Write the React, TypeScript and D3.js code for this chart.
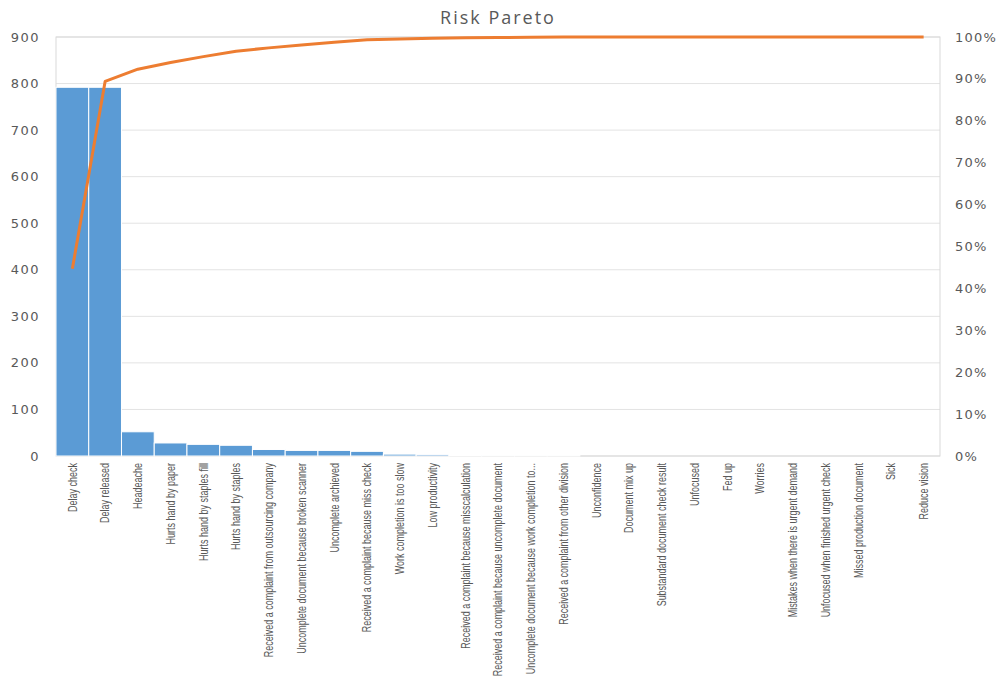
import React from 'react';
import * as d3 from 'd3';

const categories = [
  'Delay check',
  'Delay released',
  'Headeache',
  'Hurts hand by paper',
  'Hurts hand by staples fill',
  'Hurts hand by staples',
  'Received a complaint from outsourcing company',
  'Uncomplete document because broken scanner',
  'Uncomplete archieved',
  'Received a complaint because miss check',
  'Work completion is too slow',
  'Low productivity',
  'Received a complaint because misscalculation',
  'Received a complaint because uncomplete document',
  'Uncomplete document because work completion to...',
  'Received a complaint from other division',
  'Unconfidence',
  'Document mix up',
  'Substandard document check result',
  'Unfocused',
  'Fed up',
  'Worries',
  'Mistakes when there is urgent demand',
  'Unfocused when finished urgent check',
  'Missed production document',
  'Sick',
  'Reduce vision',
];

const counts = [792, 792, 52, 28, 25, 23, 14, 12, 12, 10, 4, 3, 2, 1, 1, 1, 0, 0, 0, 0, 0, 0, 0, 0, 0, 0, 0];

const leftTicks = [0, 100, 200, 300, 400, 500, 600, 700, 800, 900];
const rightTicks = [0, 0.1, 0.2, 0.3, 0.4, 0.5, 0.6, 0.7, 0.8, 0.9, 1];

const W = 1001;
const H = 681;
const margin = { top: 37, right: 61, bottom: 225, left: 56 };

export default function App() {
  const innerW = W - margin.left - margin.right;
  const innerH = H - margin.top - margin.bottom;

  const x = d3.scaleBand<string>().domain(categories).range([0, innerW]).padding(0);
  const y = d3.scaleLinear().domain([0, 900]).range([innerH, 0]);
  const yPct = d3.scaleLinear().domain([0, 1]).range([innerH, 0]);

  const total = d3.sum(counts);
  const cum = d3.cumsum(counts).map(v => v / total);

  const line = d3.line<number>()
    .x((_, i) => (x(categories[i]) as number) + x.bandwidth() / 2)
    .y(d => yPct(d));

  const tickFont = 'DejaVu Sans, sans-serif';
  const gray = '#595959';

  return (
    <svg width={W} height={H} style={{ position: 'absolute', left: 0, top: 0, background: '#fff' }}>
      <text x={498} y={24} textAnchor="middle" fontFamily="Open Sans, sans-serif" fontSize={18} fill={gray} letterSpacing={2}>
        Risk Pareto
      </text>
      <g transform={`translate(${margin.left},${margin.top})`}>
        {leftTicks.map(t => (
          <line key={t} x1={0} x2={innerW} y1={y(t)} y2={y(t)} stroke="#e3e3e3" strokeWidth={1} />
        ))}
        <rect x={0} y={0} width={innerW} height={innerH} fill="none" stroke="#d9d9d9" strokeWidth={1} />
        {counts.map((v, i) => (
          <rect
            key={categories[i]}
            x={x(categories[i])}
            y={y(v)}
            width={x.bandwidth()}
            height={innerH - y(v)}
            fill="#5b9bd5"
            stroke="#fff"
            strokeWidth={v > 0 ? 1 : 0}
          />
        ))}
        <path d={line(cum) || ''} fill="none" stroke="#ed7d31" strokeWidth={3} strokeLinejoin="round" />
        {leftTicks.map(t => (
          <text key={t} x={-16} y={y(t)} dy="0.35em" textAnchor="end" fontFamily={tickFont} fontSize={13} fill={gray} letterSpacing={1.5}>
            {t}
          </text>
        ))}
        {rightTicks.map(t => (
          <text key={t} x={innerW + 15} y={yPct(t)} dy="0.35em" textAnchor="start" fontFamily={tickFont} fontSize={13} fill={gray} letterSpacing={1.2}>
            {Math.round(t * 100) + '%'}
          </text>
        ))}
        {categories.map(c => (
          <text
            key={c}
            transform={`translate(${(x(c) as number) + x.bandwidth() / 2},${innerH + 7}) rotate(-90) scale(0.72,1)`}
            dy="0.35em"
            textAnchor="end"
            fontFamily="Liberation Sans, Arial, sans-serif"
            fontSize={12.5}
            fill={gray}
          >
            {c}
          </text>
        ))}
      </g>
    </svg>
  );
}
